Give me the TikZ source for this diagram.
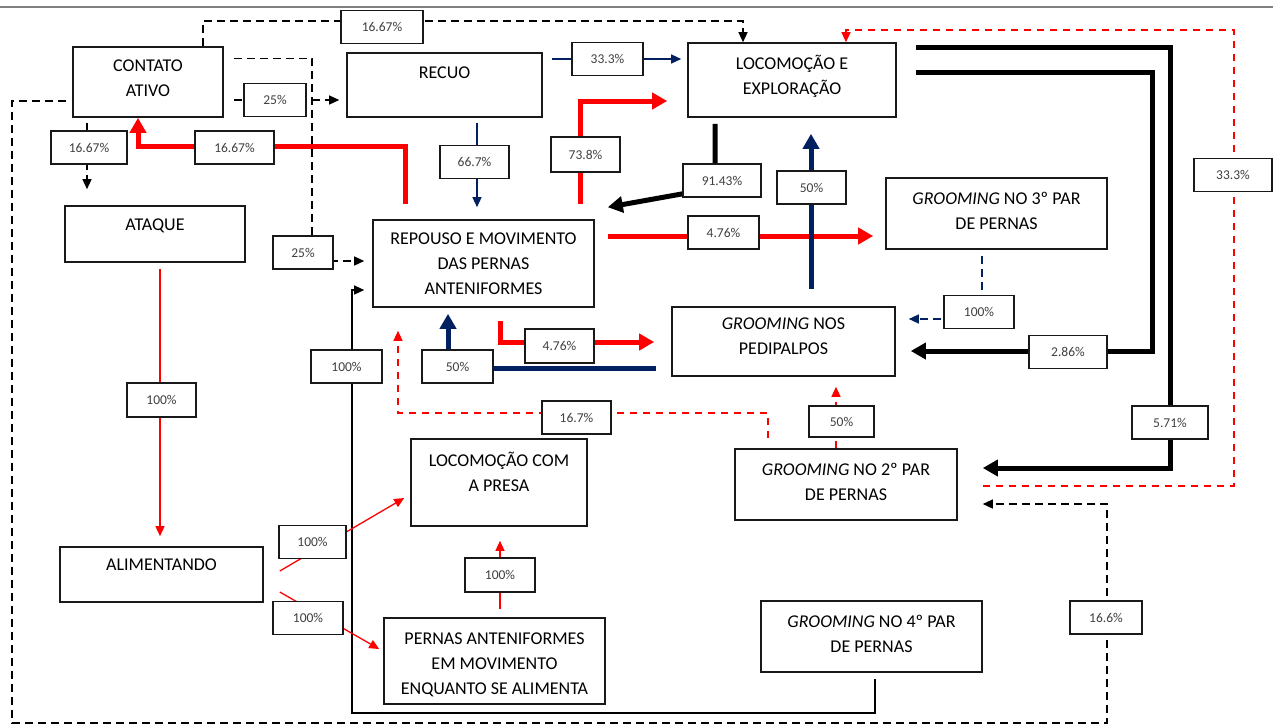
\documentclass[tikz,border=0pt]{standalone}
\usepackage{fontspec}
\setmainfont{Carlito}
\usepackage{tikz}
\usetikzlibrary{arrows.meta, calc}
\definecolor{navy}{RGB}{0,32,96}
\definecolor{frame}{RGB}{25,25,25}
\newcommand\bxfont{\fontsize{18}{25}\selectfont}
\newcommand\pcfont{\fontsize{13.5}{15}\selectfont}
\tikzset{
  box/.style={draw=frame, line width=1.6pt, inner sep=0pt, align=center, font=\bxfont},
  pct/.style={draw=frame, line width=1.4pt, fill=white, inner sep=0pt,
              minimum width=#1, minimum height=33pt, font=\pcfont, text=black!75},
  pct/.default=70pt,
  lnthin/.style={line width=1.3pt},
  lnthick/.style={line width=5pt},
  dsh/.style={dash pattern=on 8pt off 5pt},
  dshr/.style={dash pattern=on 7pt off 6pt},
  tipS/.style={-{Triangle[length=10pt, width=9pt]}},
  tipL/.style={-{Triangle[length=15pt, width=16pt]}}
}

\begin{document}
\begin{tikzpicture}[x=1pt, y=-1pt]
  \useasboundingbox (0,0) rectangle (1273,724);
  \draw[gray, line width=2pt] (0,7) -- (1273,7);

  \node[box, minimum width=150pt, minimum height=70pt] (contato) at (148,82) {CONTATO\\ATIVO\\[-17pt]\mbox{}};
  \node[box, minimum width=180pt, minimum height=56pt] (ataque) at (155,234) {ATAQUE\\[-6pt]\mbox{}};
  \node[box, minimum width=195pt, minimum height=64pt] (recuo) at (444.5,85) {RECUO\\\mbox{}};
  \node[box, minimum width=208pt, minimum height=74pt] (locexp) at (792,80) {LOCOMOÇÃO E\\EXPLORAÇÃO\\[-15pt]\mbox{}};
  \node[box, minimum width=221pt, minimum height=87pt] (repouso) at (483.5,263.5) {REPOUSO E MOVIMENTO\\DAS PERNAS\\ANTENIFORMES};
  \node[box, minimum width=221pt, minimum height=71pt] (gr3) at (996.5,213.5) {\textit{GROOMING} NO 3º PAR\\DE PERNAS\\[-19pt]\mbox{}};
  \node[box, minimum width=223pt, minimum height=69pt] (pedip) at (783.5,341.5) {\textit{GROOMING} NOS\\PEDIPALPOS\\[-14pt]\mbox{}};
  \node[box, minimum width=176pt, minimum height=87pt] (locpresa) at (499,482.5) {LOCOMOÇÃO COM\\A PRESA\\[-4pt]\mbox{}};
  \node[box, minimum width=222pt, minimum height=71pt] (gr2) at (846,484.5) {\textit{GROOMING} NO 2º PAR\\DE PERNAS\\[-19pt]\mbox{}};
  \node[box, minimum width=203pt, minimum height=55pt] (alim) at (161.5,574.5) {ALIMENTANDO\\[-6pt]\mbox{}};
  \node[box, minimum width=221pt, minimum height=86pt] (pernas) at (494.5,661) {\mbox{}\\[-6pt]PERNAS ANTENIFORMES\\EM MOVIMENTO\\ENQUANTO SE ALIMENTA};
  \node[box, minimum width=221pt, minimum height=71pt] (gr4) at (871.5,636.5) {\textit{GROOMING} NO 4º PAR\\DE PERNAS\\[-19pt]\mbox{}};

  \draw[lnthin, dsh, tipS] (contato.north -| 203,0) |- (743,21) -- (locexp.north -| 743,0);
  \draw[lnthin, dsh, tipS, shorten >=8pt] ($(contato.north east)+(10,12)$) -| (312,261) -- (repouso.west |- 0,261);
  \draw[lnthin, dsh, tipS, shorten <=10pt, shorten >=7pt] (contato.east |- 0,100) -- (recuo.west |- 0,100);
  \draw[lnthin, dsh, tipS, shorten <=6pt, shorten >=25pt] (contato.west |- 0,101) -| (12,723) -| (1107,504) -- (gr2.east |- 0,504);
  \draw[lnthin, dsh, tipS, shorten <=5pt, shorten >=16pt] (contato.south -| 87,0) -- (ataque.north -| 87,0);
  \draw[lnthick, red, tipL, shorten <=15pt] (repouso.north -| 405,0) |- (138,146) -- (contato.south -| 138,0);
  \draw[lnthin, red, tipS, shorten <=6pt, shorten >=10pt] (ataque.south -| 160,0) -- (alim.north -| 160,0);
  \draw[lnthin, navy, tipS, shorten <=5pt, shorten >=12pt] (recuo.south -| 477,0) -- (repouso.north -| 477,0);
  \draw[lnthin, navy, tipS, shorten <=9pt, shorten >=6pt] (recuo.east |- 0,59) -- (locexp.west |- 0,59);
  \draw[lnthick, red, tipL, shorten <=15pt, shorten >=20pt] (repouso.north -| 580,0) |- (locexp.west |- 0,101);
  \draw[lnthick, tipL, shorten <=6pt] (locexp.south -| 715,0) -- (715,188) -- ($(repouso.north east)+(13,-12)$);
  \draw[lnthick, red, tipL, shorten <=13pt, shorten >=12pt] (repouso.east |- 0,236) -- (gr3.west |- 0,236);
  \draw[lnthick, navy, tipL, shorten <=17pt, shorten >=16pt] (pedip.north -| 811,0) -- (locexp.south -| 811,0);
  \draw[lnthick, red, tipL, shorten <=13pt, shorten >=17pt] (repouso.south -| 500,0) |- (pedip.west |- 0,342);
  \draw[lnthick, navy, tipL, shorten <=15pt, shorten >=6pt] (pedip.west |- 0,368) -| (repouso.south -| 448,0);
  \draw[lnthin, red, dshr, tipS, shorten <=10pt, shorten >=23pt] (gr2.north -| 768,0) |- (398,413) -- (repouso.south -| 398,0);
  \draw[lnthin, red, dshr, tipS, shorten >=10pt] (gr2.north -| 836,0) -- (pedip.south -| 836,0);
  \draw[lnthin, navy, dsh, tipS, shorten <=6pt, shorten >=13pt] (gr3.south -| 982,0) |- (pedip.east |- 0,319);
  \draw[lnthick, tipL, shorten <=19pt, shorten >=15pt] (locexp.east |- 0,72) -| (1152,351) -- (pedip.east |- 0,351);
  \draw[lnthick, tipL, shorten <=19pt, shorten >=25pt] (locexp.east |- 0,47) -| (1170,468) -- (gr2.east |- 0,468);
  \draw[lnthin, red, dshr, tipS, shorten <=25pt] (gr2.east |- 0,486) -| (1234,30) -| (locexp.north -| 846,0);
  \draw[lnthin, tipS, shorten <=6pt, shorten >=8pt] (gr4.south -| 875,0) |- (352,713) |- (repouso.west |- 0,290);
  \draw[lnthin, red, tipS] ($(alim.east)+(16,-3.5)$) -- ($(locpresa.west)+(-6,15.5)$);
  \draw[lnthin, red, tipS] ($(alim.east)+(16,17.5)$) -- ($(pernas.west)+(-4,-12)$);
  \draw[lnthin, red, tipS, shorten <=8pt, shorten >=14pt] (pernas.north -| 500,0) -- (locpresa.south -| 500,0);

  \node[pct=82pt] (pTop) at (382,27) {16.67\%};
  \node[pct=62pt] (pRecuo) at (275,100) {25\%};
  \node[pct=76pt] (pAtaque) at (89,147.5) {16.67\%};
  \node[pct=79pt] (pContato) at (234.5,147.5) {16.67\%};
  \node[pct=60pt] (pRepA) at (303,252.5) {25\%};
  \node[pct=71pt] (pRecLoc) at (607.5,59) {33.3\%};
  \node[pct=69pt] (pRecRep) at (474.5,162) {66.7\%};
  \node[pct=69pt, minimum height=35pt] (pRepLoc) at (585.5,154.5) {73.8\%};
  \node[pct=78pt] (pLocRep) at (722,180.5) {91.43\%};
  \node[pct=69pt] (pPedLoc) at (811.5,187.5) {50\%};
  \node[pct=71pt] (pRepGr3) at (723.5,232.5) {4.76\%};
  \node[pct=78pt] (pGr2Loc) at (1233,175) {33.3\%};
  \node[pct=70pt] (pGr3Ped) at (979,312) {100\%};
  \node[pct=78pt] (pLocPed) at (1068,352) {2.86\%};
  \node[pct=69pt, minimum height=34pt] (pAtaAli) at (161.5,400) {100\%};
  \node[pct=71pt] (pGr4Rep) at (346.5,366.5) {100\%};
  \node[pct=71pt] (pPedRep) at (457.5,366.5) {50\%};
  \node[pct=69pt, minimum height=34pt] (pRepPed) at (559.5,346) {4.76\%};
  \node[pct=69pt] (pGr2Rep) at (576.5,417.5) {16.7\%};
  \node[pct=65pt, minimum height=31pt] (pGr2Ped) at (841.5,421.5) {50\%};
  \node[pct=76pt] (pLocGr2) at (1170,422.5) {5.71\%};
  \node[pct=67pt] (pAliPresa) at (312.5,542) {100\%};
  \node[pct=70pt] (pAliPernas) at (308,618) {100\%};
  \node[pct=70pt, minimum height=34pt] (pPerPresa) at (500,575) {100\%};
  \node[pct=72pt] (pConGr2) at (1106,617.5) {16.6\%};
\end{tikzpicture}
\end{document}
